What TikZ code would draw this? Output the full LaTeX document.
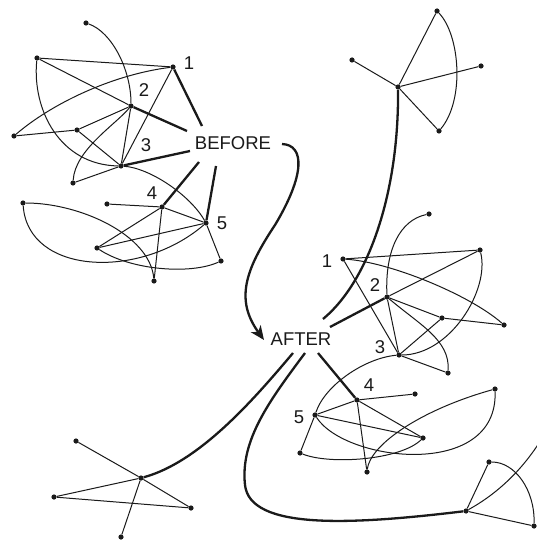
\documentclass[tikz,border=0pt]{standalone}
\usepackage{fontspec}
\setmainfont{Liberation Sans}
\usetikzlibrary{arrows.meta}
\definecolor{ink}{HTML}{1A1A1A}
\tikzset{
  dot/.style={circle,fill=ink,inner sep=0pt,minimum size=5.2pt},
  thin/.style={draw=ink,line width=1pt},
  thick/.style={draw=ink,line width=2.3pt},
  lbl/.style={inner sep=0pt,text=ink,font=\fontsize{18.5}{20}\selectfont},
  tip/.style={-{Stealth[length=14pt,width=12pt,inset=4pt]}}
}
\begin{document}
\begin{tikzpicture}[x=1pt,y=-1pt]
\useasboundingbox (0,0) rectangle (537,540);
\clip (0,0) rectangle (537,540);
\fill[white] (0,0) rectangle (537,540);

% ---------- top-left cluster ----------
\node[dot] (A) at (86,23) {};
\node[dot] (B) at (37,58) {};
\node[dot] (n1) at (173,67) {};
\node[dot] (n2) at (131,106) {};
\node[dot] (C) at (14,136) {};
\node[dot] (D) at (77,130) {};
\node[dot] (n3) at (121,166) {};
\node[dot] (E) at (73,183) {};
% lower-left cluster
\node[dot] (F) at (23,203) {};
\node[dot] (G) at (107,204) {};
\node[dot] (n4) at (162,207) {};
\node[dot] (n5) at (206,223) {};
\node[dot] (H) at (97,248) {};
\node[dot] (I) at (221,261) {};
\node[dot] (J) at (154,281) {};

\draw[thin] (B) -- (n1);
\draw[thin] (B) -- (n2);
\draw[thin] (C) .. controls (50,105) and (110,75) .. (n1);
\draw[thin] (C) -- (D);
\draw[thin] (D) -- (n2);
\draw[thin] (D) -- (n3);
\draw[thin] (n1) -- (n3);
\draw[thin] (n2) -- (n3);
\draw[thin] (A) .. controls (112,32) and (131,70) .. (n2);
\draw[thin] (n2) .. controls (115,125) and (75,150) .. (E);
\draw[thin] (E) -- (n3);
\draw[thin] (B) .. controls (32,110) and (60,165) .. (n3);
\draw[thin] (n3) .. controls (150,168) and (190,195) .. (n5);

\draw[thin] (G) -- (n4);
\draw[thin] (n4) -- (n5);
\draw[thin] (n4) -- (H);
\draw[thin] (n4) -- (J);
\draw[thin] (H) -- (n5);
\draw[thin] (H) .. controls (130,270) and (190,275) .. (I);
\draw[thin] (F) .. controls (80,203) and (150,235) .. (J);
\draw[thin] (F) .. controls (28,275) and (140,280) .. (n5);
\draw[thin] (n5) -- (I);

\node[lbl] (before) at (233,143) {BEFORE};
\node[lbl] (l1) at (189,63) {1};
\node[lbl] (l2) at (144,90) {2};
\node[lbl] (l3) at (146,145) {3};
\node[lbl] (l4) at (152,193) {4};
\node[lbl] (l5) at (222,223) {5};

\coordinate (b1) at (202,126);
\coordinate (b2) at (187,131);
\coordinate (b3) at (190,151);
\coordinate (b4) at (199,162);
\coordinate (b5) at (216,166);
\draw[thick] (n1) -- (b1);
\draw[thick] (n2) -- (b2);
\draw[thick] (n3) -- (b3);
\draw[thick] (n4) -- (b4);
\draw[thick] (n5) -- (b5);

% ---------- arrow ----------
\node[lbl] (after) at (301,339) {AFTER};
\coordinate (as) at (282,144);
\coordinate (at) at (264,340);
\draw[thick,tip] (as) .. controls (305,145) and (305,175) .. (275,225)
   .. controls (245,270) and (235,300) .. (at);

% ---------- top-right cluster ----------
\node[dot] (K) at (437,11) {};
\node[dot] (L) at (352,60) {};
\node[dot] (M) at (481,66) {};
\node[dot] (P) at (398,87) {};
\node[dot] (Q) at (439,131) {};
\draw[thin] (L) -- (P);
\draw[thin] (P) -- (K);
\draw[thin] (P) -- (M);
\draw[thin] (P) -- (Q);
\draw[thin] (K) .. controls (460,35) and (465,100) .. (Q);
\coordinate (a0) at (323,319);
\draw[thick] (P) .. controls (399,190) and (370,280) .. (a0);

% ---------- middle-right cluster ----------
\node[dot] (r1) at (343,259) {};
\node[dot] (S) at (429,214) {};
\node[dot] (T) at (480,250) {};
\node[dot] (r2) at (387,297) {};
\node[dot] (U) at (442,318) {};
\node[dot] (V) at (504,325) {};
\node[dot] (r3) at (399,355) {};
\node[dot] (W) at (448,373) {};
\draw[thin] (r1) -- (T);
\draw[thin] (r1) .. controls (390,262) and (470,295) .. (V);
\draw[thin] (r1) -- (r3);
\draw[thin] (r2) -- (T);
\draw[thin] (r2) -- (U);
\draw[thin] (U) -- (V);
\draw[thin] (r2) -- (r3);
\draw[thin] (U) -- (r3);
\draw[thin] (S) .. controls (400,220) and (385,250) .. (r2);
\draw[thin] (r2) .. controls (420,325) and (450,340) .. (W);
\draw[thin] (T) .. controls (490,290) and (450,355) .. (r3);
\draw[thin] (r3) -- (W);

% ---------- bottom-middle cluster ----------
\node[dot] (r4) at (357,400) {};
\node[dot] (X) at (415,394) {};
\node[dot] (r5) at (315,415) {};
\node[dot] (Y) at (495,389) {};
\node[dot] (Z) at (423,438) {};
\node[dot] (O) at (300,453) {};
\node[dot] (Ps) at (367,472) {};
\draw[thin] (r3) .. controls (365,358) and (325,385) .. (r5);
\draw[thin] (r4) -- (X);
\draw[thin] (r4) -- (r5);
\draw[thin] (r4) -- (Z);
\draw[thin] (r4) -- (Ps);
\draw[thin] (r5) -- (Z);
\draw[thin] (r5) -- (O);
\draw[thin] (O) .. controls (330,465) and (400,460) .. (Z);
\draw[thin] (r5) .. controls (345,462) and (498,480) .. (Y);
\draw[thin] (Ps) .. controls (370,445) and (420,410) .. (Y);

\node[lbl] (m1) at (327,261) {1};
\node[lbl] (m2) at (375,285) {2};
\node[lbl] (m3) at (380,347) {3};
\node[lbl] (m4) at (369,385) {4};
\node[lbl] (m5) at (299,417) {5};

% ---------- bottom-right cluster ----------
\node[dot] (AA) at (466,511) {};
\node[dot] (BB) at (489,462) {};
\node[dot] (CC) at (534,526) {};
\coordinate (off) at (548,428);
\draw[thin] (AA) -- (BB);
\draw[thin] (AA) -- (CC);
\draw[thin] (BB) .. controls (515,462) and (535,490) .. (CC);
\draw[thin] (AA) .. controls (495,495) and (525,470) .. (off);

% ---------- bottom-left cluster ----------
\node[dot] (DD) at (76,441) {};
\node[dot] (EE) at (141,478) {};
\node[dot] (FF) at (54,497) {};
\node[dot] (GG) at (191,508) {};
\node[dot] (HH) at (121,537) {};
\draw[thin] (DD) -- (EE);
\draw[thin] (EE) -- (GG);
\draw[thin] (FF) -- (EE);
\draw[thin] (FF) -- (GG);
\draw[thin] (EE) -- (HH);

% ---------- thick AFTER connectors ----------
\coordinate (a1) at (330,327);
\coordinate (a2) at (293,353);
\coordinate (a3) at (305,353);
\coordinate (a4) at (318,353);
\draw[thick] (r2) -- (a1);
\draw[thick] (a2) .. controls (255,398) and (200,462) .. (EE);
\draw[thick] (a3) .. controls (270,400) and (240,440) .. (245,485)
   .. controls (250,530) and (350,525) .. (AA);
\draw[thick] (a4) -- (r4);
\end{tikzpicture}
\end{document}
